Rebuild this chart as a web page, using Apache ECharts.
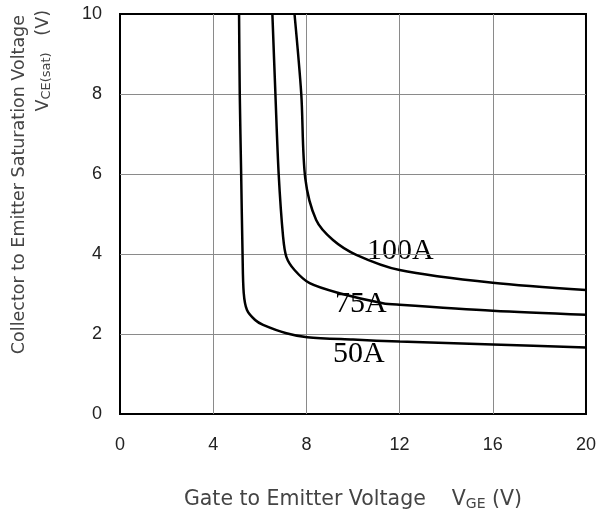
<!DOCTYPE html>
<html>
<head>
<meta charset="utf-8">
<script src="https://cdn.jsdelivr.net/npm/echarts@6/dist/echarts.min.js"></script>
<style>
  html, body { margin: 0; padding: 0; background: #fff; }
  #chart { width: 599px; height: 519px; }
</style>
</head>
<body>
<div id="chart"></div>
<script>
  // VGE (V), VCE(sat) (V)
  const curve50 = [[5.11, 10], [5.14, 8], [5.2, 6], [5.26, 4], [5.31, 3.03], [5.45, 2.6], [5.8, 2.35],
    [6.14, 2.23], [7.14, 2.02], [8.04, 1.92], [10, 1.86], [12, 1.81], [16, 1.74], [20, 1.66]];
  const curve75 = [[6.54, 10], [6.67, 8], [6.81, 6], [7.0, 4.43], [7.14, 3.93], [7.49, 3.6], [8.14, 3.27],
    [9.42, 3.02], [11.28, 2.77], [12, 2.73], [16, 2.58], [20, 2.48]];
  const curve100 = [[7.49, 10], [7.78, 8], [7.95, 5.9], [8.42, 4.85], [9.14, 4.35], [10.14, 3.98],
    [12, 3.6], [16, 3.28], [20, 3.1]];
  const curveNames = ['50A', '75A', '100A'];
  const xTicks = [0, 4, 8, 12, 16, 20];
  const yTicks = [0, 2, 4, 6, 8, 10];

  const chart = echarts.init(document.getElementById('chart'));

  const lineSeries = (name, data) => ({
    name: name,
    type: 'line',
    data: data,
    smooth: 0.3,
    showSymbol: false,
    lineStyle: { color: '#000', width: 2.5 }
  });

  const titleFont = 'DejaVu Sans';

  chart.setOption({
    animation: false,
    grid: {
      left: 120, top: 14, right: 12, bottom: 105,
      show: true, borderColor: '#000', borderWidth: 2
    },
    xAxis: {
      type: 'value',
      min: xTicks[0], max: xTicks[xTicks.length - 1], interval: 4,
      axisLine: { show: false },
      axisTick: { show: false },
      axisLabel: { margin: 22, fontSize: 18, color: '#222', fontFamily: 'Liberation Sans' },
      splitLine: { showMinLine: false, showMaxLine: false, lineStyle: { color: '#8a8a8a', width: 1 } },
      name: '{a|Gate to Emitter Voltage    V}{s|GE}{a| (V)}',
      nameLocation: 'middle',
      nameGap: 75,
      nameTextStyle: {
        rich: {
          a: { fontSize: 20.5, color: '#444', fontFamily: titleFont },
          s: { fontSize: 14, color: '#444', fontFamily: titleFont, padding: [8, 0, 0, 0] }
        }
      }
    },
    yAxis: {
      type: 'value',
      min: yTicks[0], max: yTicks[yTicks.length - 1], interval: 2,
      axisLine: { show: false },
      axisTick: { show: false },
      axisLabel: { margin: 18, fontSize: 18, color: '#222', fontFamily: 'Liberation Sans' },
      splitLine: { showMinLine: false, showMaxLine: false, lineStyle: { color: '#8a8a8a', width: 1 } }
    },
    graphic: [
      {
        type: 'text', x: 19, y: 15, rotation: Math.PI / 2,
        style: {
          text: 'Collector to Emitter Saturation Voltage',
          fill: '#444', fontSize: 17.5, fontFamily: titleFont,
          align: 'right', verticalAlign: 'middle'
        }
      },
      {
        type: 'text', x: 43, y: 10, rotation: Math.PI / 2,
        style: {
          text: '{a|V}{s|CE(sat)}{a|   (V)}',
          align: 'right', verticalAlign: 'middle',
          rich: {
            a: { fontSize: 17.5, fill: '#444', fontFamily: titleFont },
            s: { fontSize: 13, fill: '#444', fontFamily: titleFont, padding: [8, 0, 0, 0] }
          }
        }
      },
      { type: 'text', x: 367, y: 251, style: { text: curveNames[2], fill: '#000', fontSize: 30, fontFamily: 'Liberation Serif', verticalAlign: 'middle' } },
      { type: 'text', x: 335, y: 304, style: { text: curveNames[1], fill: '#000', fontSize: 30, fontFamily: 'Liberation Serif', verticalAlign: 'middle' } },
      { type: 'text', x: 333, y: 354, style: { text: curveNames[0], fill: '#000', fontSize: 30, fontFamily: 'Liberation Serif', verticalAlign: 'middle' } }
    ],
    series: [
      lineSeries(curveNames[0], curve50),
      lineSeries(curveNames[1], curve75),
      lineSeries(curveNames[2], curve100)
    ]
  });
</script>
</body>
</html>
